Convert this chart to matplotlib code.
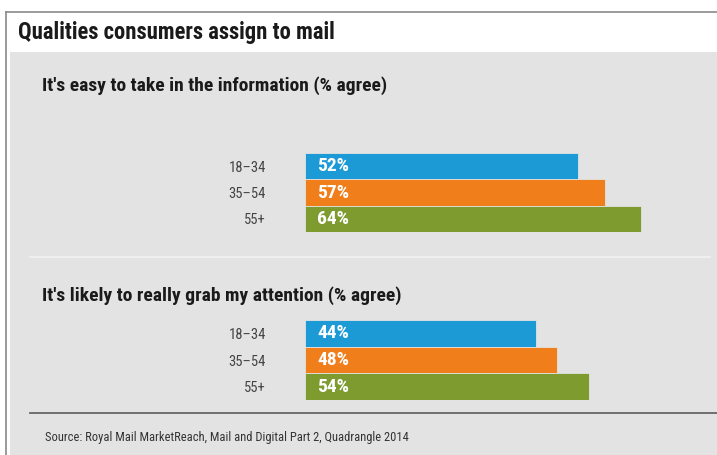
import matplotlib.pyplot as plt
from matplotlib.patches import Rectangle
from matplotlib.lines import Line2D

FONT = ["Roboto Condensed", "Archivo Narrow", "DejaVu Sans"]
plt.rcParams["font.family"] = FONT

groups = ["18–34", "35–54", "55+"]
easy_vals = [52, 57, 64]
grab_vals = [44, 48, 54]
panel_titles = ["It's easy to take in the information (% agree)",
                "It's likely to really grab my attention (% agree)"]
colors = ["#1b9ad6", "#f07e1a", "#7e9b2f"]

W, H = 717, 455
fig = plt.figure(figsize=(W / 100, H / 100), dpi=100, facecolor="white")


def fx(px):
    return px / W


def fy(py):
    return 1 - py / H


# frame + grey panel
fig.patches.append(Rectangle((fx(10), 0), fx(W - 10), fy(52), transform=fig.transFigure,
                             facecolor="#e3e3e3", edgecolor="none", zorder=-5))
fig.lines.append(Line2D([fx(6), 1], [fy(12), fy(12)], transform=fig.transFigure, color="#8a8a8a", lw=1.2))
fig.lines.append(Line2D([fx(6), fx(6)], [0, fy(12)], transform=fig.transFigure, color="#8a8a8a", lw=1.2))
fig.lines.append(Line2D([fx(30), fx(710)], [fy(257), fy(257)], transform=fig.transFigure, color="#f2f2f2", lw=1.2))
fig.lines.append(Line2D([fx(30), 1], [fy(413), fy(413)], transform=fig.transFigure, color="#666666", lw=1.3))

fig.text(fx(18), fy(32), "Qualities consumers assign to mail", fontsize=16.3, fontweight="bold",
         color="#1a1a1a", va="center", ha="left")
fig.text(fx(45), fy(437), "Source: Royal Mail MarketReach, Mail and Digital Part 2, Quadrangle 2014",
         fontsize=9, color="#333333", va="center", ha="left")

panels = [(easy_vals, 86, 153, 232), (grab_vals, 296, 320, 400)]
for (vals, title_y, top, bottom), title in zip(panels, panel_titles):
    fig.text(fx(42), fy(title_y), title, fontsize=14, fontweight="bold", color="#1a1a1a",
             va="center", ha="left")
    ax = fig.add_axes([fx(305), fy(bottom), fx(368), (bottom - top) / H])
    ax.set_facecolor("none")
    y = list(range(len(groups)))
    ax.barh(y, vals, height=1.0, color=colors, edgecolor="#e3e3e3", linewidth=0.6)
    ax.set_xlim(0, 70)
    ax.set_ylim(len(groups) - 0.5, -0.5)
    ax.set_yticks(y)
    ax.set_yticklabels(groups, fontsize=10.5, color="#444444")
    ax.tick_params(axis="y", length=0, pad=28)
    ax.set_xticks([])
    for s in ax.spines.values():
        s.set_visible(False)
    for yi, v in zip(y, vals):
        ax.text(2.3, yi, f"{v}%", color="white", fontsize=14, fontweight="bold",
                va="center", ha="left")

fig.savefig("out.png", dpi=100, facecolor="white")
